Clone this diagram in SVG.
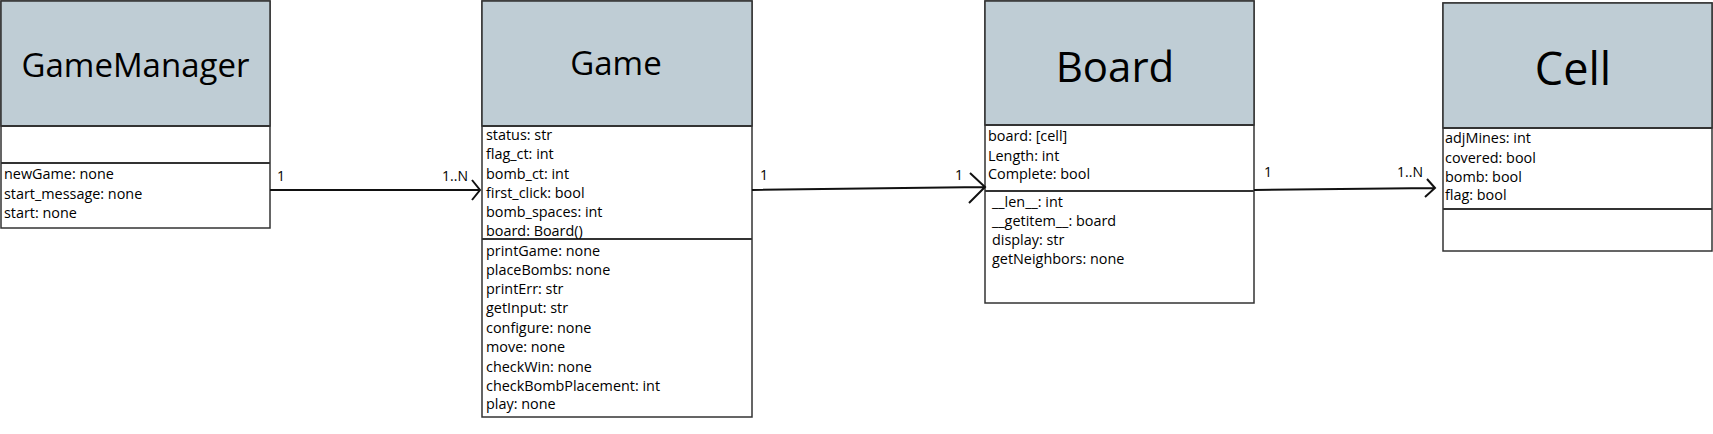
<svg xmlns="http://www.w3.org/2000/svg" width="1713" height="434" viewBox="0 0 1713 434">
<style>
.box{fill:#fff;stroke:#333;stroke-width:1.5}
.hdr{fill:#bfcdd5;stroke:#333;stroke-width:1.5}
.div{stroke:#333;stroke-width:2}
.t{font-family:"Open Sans",sans-serif;font-size:14.4px;fill:#000}
.title{font-family:"Open Sans",sans-serif;fill:#000;text-anchor:middle}
.lbl{font-family:"Open Sans",sans-serif;font-size:14px;fill:#000}
.con{fill:none;stroke:#111;stroke-width:2}
</style>
<rect width="1713" height="434" fill="#fff"/>
<g id="GameManager">
<rect class="box" x="1" y="1" width="269" height="227"/>
<rect class="hdr" x="1" y="1" width="269" height="125"/>
<line class="div" x1="1" y1="126" x2="270" y2="126"/>
<line class="div" x1="1" y1="163" x2="270" y2="163"/>
<text class="title" x="135.5" y="77" font-size="33">GameManager</text>
<text class="t" x="4" y="179">newGame: none</text>
<text class="t" x="4" y="198.5">start_message: none</text>
<text class="t" x="4" y="218">start: none</text>
</g>
<g id="Game">
<rect class="box" x="482" y="1" width="270" height="416"/>
<rect class="hdr" x="482" y="1" width="270" height="125"/>
<line class="div" x1="482" y1="126" x2="752" y2="126"/>
<line class="div" x1="482" y1="239" x2="752" y2="239"/>
<text class="title" x="616" y="75" font-size="33">Game</text>
<text class="t" x="486" y="140">status: str</text>
<text class="t" x="486" y="159">flag_ct: int</text>
<text class="t" x="486" y="179">bomb_ct: int</text>
<text class="t" x="486" y="198">first_click: bool</text>
<text class="t" x="486" y="217">bomb_spaces: int</text>
<text class="t" x="486" y="236">board: Board()</text>
<text class="t" x="486" y="256">printGame: none</text>
<text class="t" x="486" y="275">placeBombs: none</text>
<text class="t" x="486" y="294">printErr: str</text>
<text class="t" x="486" y="313">getInput: str</text>
<text class="t" x="486" y="333">configure: none</text>
<text class="t" x="486" y="352">move: none</text>
<text class="t" x="486" y="372">checkWin: none</text>
<text class="t" x="486" y="391">checkBombPlacement: int</text>
<text class="t" x="486" y="409">play: none</text>
</g>
<g id="Board">
<rect class="box" x="985" y="1" width="269" height="302"/>
<rect class="hdr" x="985" y="1" width="269" height="124"/>
<line class="div" x1="985" y1="125" x2="1254" y2="125"/>
<line class="div" x1="985" y1="191" x2="1254" y2="191"/>
<text class="title" x="1115" y="82" font-size="42">Board</text>
<text class="t" x="988" y="141">board: [cell]</text>
<text class="t" x="988" y="161">Length: int</text>
<text class="t" x="988" y="179">Complete: bool</text>
<text class="t" x="992" y="207">__len__: int</text>
<text class="t" x="992" y="226">__getitem__: board</text>
<text class="t" x="992" y="245">display: str</text>
<text class="t" x="992" y="264">getNeighbors: none</text>
</g>
<g id="Cell">
<rect class="box" x="1443" y="3" width="269" height="248"/>
<rect class="hdr" x="1443" y="3" width="269" height="125"/>
<line class="div" x1="1443" y1="128" x2="1712" y2="128"/>
<line class="div" x1="1443" y1="209" x2="1712" y2="209"/>
<text class="title" x="1573" y="85" font-size="45">Cell</text>
<text class="t" x="1445" y="143">adjMines: int</text>
<text class="t" x="1445" y="163">covered: bool</text>
<text class="t" x="1445" y="182">bomb: bool</text>
<text class="t" x="1445" y="200">flag: bool</text>
</g>
<g id="connectors">
<path class="con" d="M270,190 L480,190 M472,180 L480,190 L472,200"/>
<text class="lbl" x="277" y="181">1</text>
<text class="lbl" x="468" y="181" text-anchor="end">1..N</text>
<path class="con" d="M752,190 L985,187 M970,173 L985,187 L969,203"/>
<text class="lbl" x="760" y="180">1</text>
<text class="lbl" x="955" y="180">1</text>
<path class="con" d="M1254,190 L1435,188 M1427,179 L1435,188 L1425,197"/>
<text class="lbl" x="1264" y="177">1</text>
<text class="lbl" x="1423" y="177" text-anchor="end">1..N</text>
</g>
</svg>
